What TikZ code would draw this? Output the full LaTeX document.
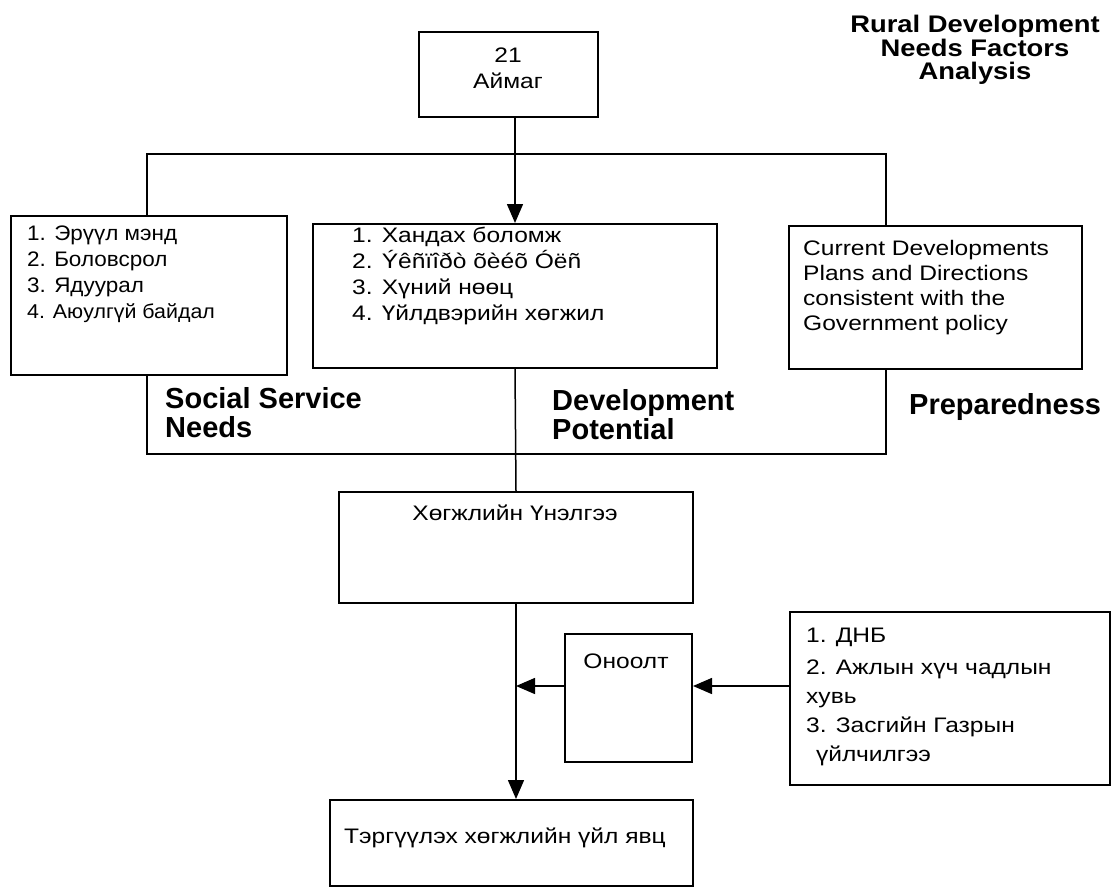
\documentclass[tikz,border=0pt]{standalone}
\usepackage{fontspec}
\setmainfont{Liberation Sans}
\newfontfamily\wfont[FakeStretch=1.17]{Liberation Sans}
\newfontfamily\lfont[FakeStretch=1.07]{Liberation Sans}
\newfontfamily\tfont[FakeStretch=1.14]{Liberation Sans Bold}
\usetikzlibrary{arrows.meta,calc}
\begin{document}
\begin{tikzpicture}[x=1pt,y=-1pt,
  box/.style={draw,line width=2pt,fill=white,inner sep=0pt},
  conn/.style={line width=1.5pt},
  arr/.style={line width=1.5pt,-{Triangle[length=19pt,width=16pt]}},
  txt/.style={inner sep=0pt,align=left,font=\wfont\fontsize{21}{26}\selectfont},
  lbl/.style={inner sep=0pt,align=left,font=\fontsize{29}{29}\bfseries\selectfont},
]
\useasboundingbox (0,0) rectangle (1114,887);
% title
\node[inner sep=0pt,align=center,anchor=north,font=\tfont\fontsize{24}{23.5}\selectfont] (title) at (975,15) {Rural Development\\Needs Factors\\Analysis};
% frame
\node[box,fill=none,minimum width=739pt,minimum height=300pt] (frame) at (516.5,304) {};
% top box
\node[box,minimum width=179pt,minimum height=85pt] (top) at (508.5,74.5) {};
\node[txt,align=center] (toptxt) at (508,68) {21\\Аймаг};
% three boxes
\node[box,minimum width=276pt,minimum height=159pt] (left) at (149,295.5) {};
\node[box,minimum width=404pt,minimum height=144pt] (mid) at (515,296) {};
\node[box,minimum width=293pt,minimum height=143pt] (right) at (935.5,297.5) {};
\node[txt,anchor=north west,font=\lfont\fontsize{21}{26}\selectfont] (lefttxt) at (27,226) {1. Эрүүл мэнд\\2. Боловсрол\\3. Ядуурал\\{\fontsize{20}{26}\selectfont 4. Аюулгүй байдал}};
\node[txt,anchor=north west] (midtxt) at (352,227) {1. Хандах боломж\\2. Ýêñïîðò õèéõ Óëñ\\3. Хүний нөөц\\4. Үйлдвэрийн хөгжил};
\node[txt,anchor=north west,font=\wfont\fontsize{21}{25}\selectfont] (righttxt) at (803,240) {Current Developments\\Plans and Directions\\consistent with the\\Government policy};
% labels
\node[lbl,anchor=north west] (l1) at (165,387) {Social Service\\Needs};
\node[lbl,anchor=north west] (l2) at (552,389) {Development\\Potential};
\node[lbl,anchor=north west] (l3) at (909,393) {Preparedness};
% lower boxes
\node[box,minimum width=354pt,minimum height=111pt] (assess) at (516,547.5) {};
\node[txt] (assesstxt) at (515,513) {Хөгжлийн Үнэлгээ};
\node[box,minimum width=127pt,minimum height=128pt] (onoo) at (628.5,698) {};
\node[txt] (onootxt) at (626,661) {Оноолт};
\node[box,minimum width=320pt,minimum height=173pt] (rb) at (950,698.5) {};
\node[txt,anchor=north west,font=\wfont\fontsize{21}{29}\selectfont] (rbtxt) at (806,628) {1. ДНБ\\[3pt]2. Ажлын хүч чадлын\\хувь\\3. Засгийн Газрын\\\hspace{10pt}үйлчилгээ};
\node[box,minimum width=363pt,minimum height=86pt] (final) at (511.5,843) {};
\node[txt,anchor=west] (finaltxt) at (344,838) {Тэргүүлэх хөгжлийн үйл явц};
% connectors
\coordinate (ay) at (0,686);
\draw[arr] (mid.north |- top.south) -- (mid.north);
\draw[conn] (mid.south) -- (assess.north);
\draw[arr] (assess.south) -- (assess.south |- final.north);
\draw[arr] (onoo.west |- ay) -- (assess.south |- ay);
\draw[arr] (rb.west |- ay) -- (onoo.east |- ay);
\end{tikzpicture}
\end{document}
